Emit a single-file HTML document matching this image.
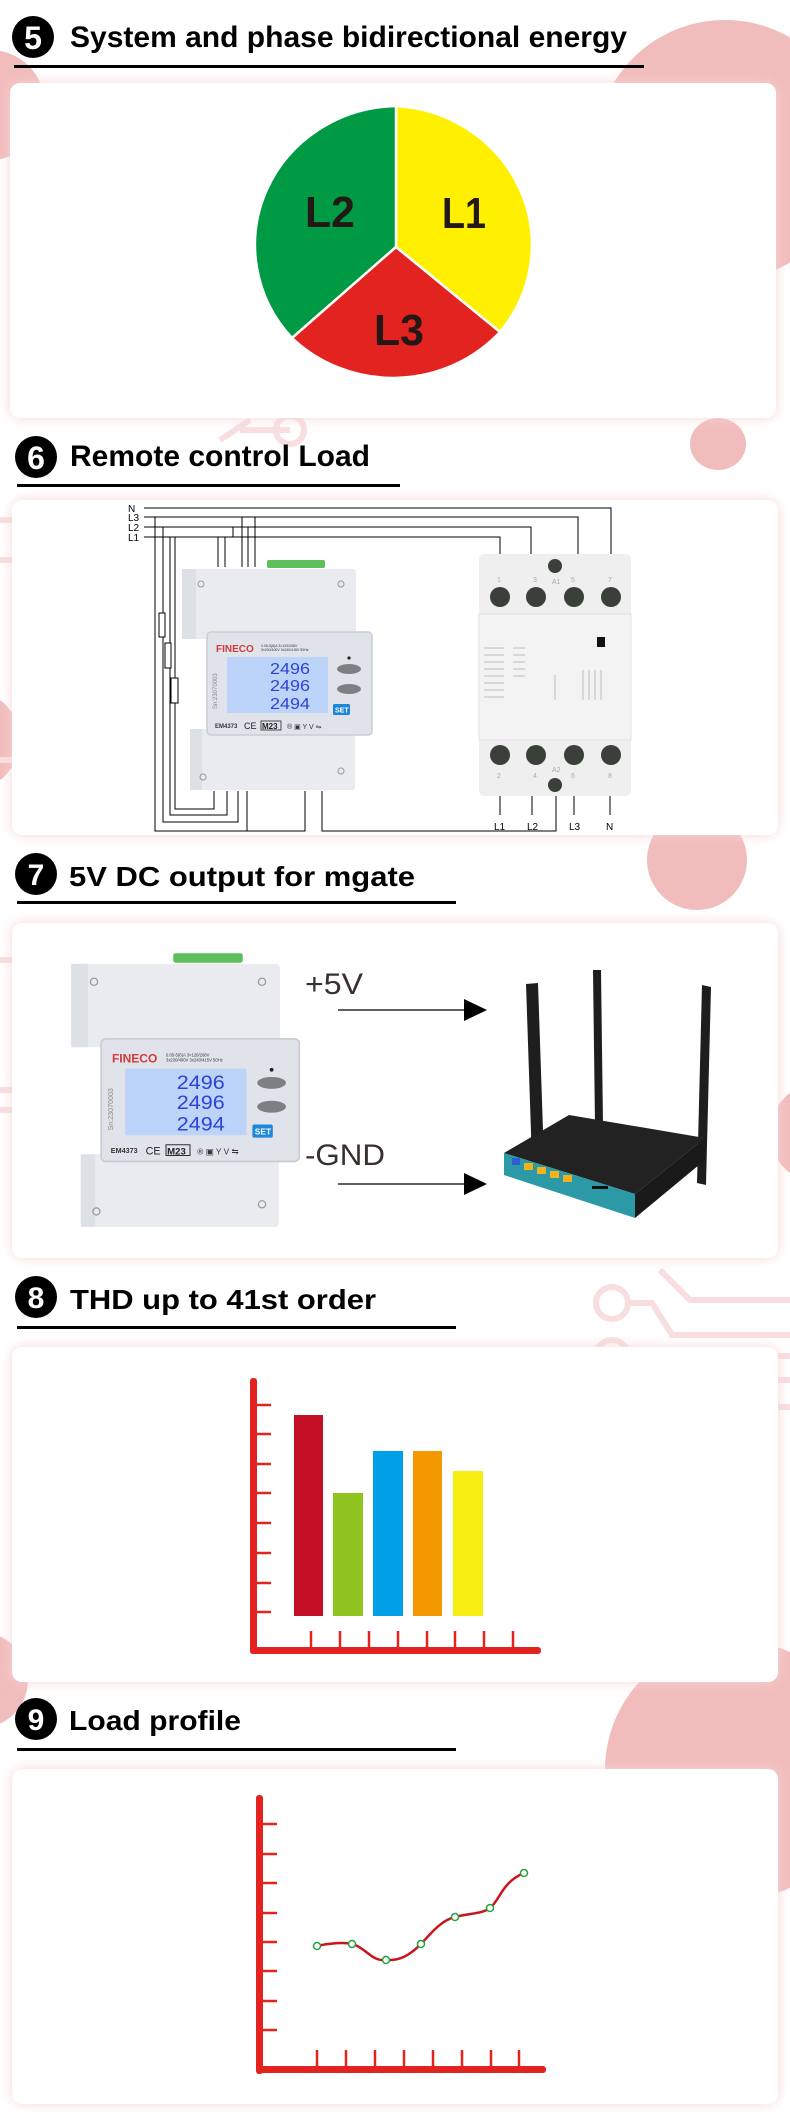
<!DOCTYPE html>
<html><head><meta charset="utf-8"><style>
html,body{margin:0;padding:0;background:#fff;}
svg{display:block;}
text{font-family:"Liberation Sans",sans-serif;}
</style></head><body>
<svg width="790" height="2118" viewBox="0 0 790 2118" xmlns="http://www.w3.org/2000/svg">
<defs>
<filter id="glow" x="-5%" y="-5%" width="110%" height="110%"><feGaussianBlur stdDeviation="6"/></filter>
<g id="meter">
  <rect x="86" y="1" width="58" height="8" rx="2" fill="#5cbf5a"/>
  <rect x="1" y="10" width="174" height="70" rx="3" fill="#e9ebef"/>
  <rect x="1" y="10" width="14" height="70" fill="#dde0e5"/>
  <circle cx="20" cy="25" r="3" fill="none" stroke="#999" stroke-width="1"/>
  <circle cx="160" cy="25" r="3" fill="none" stroke="#999" stroke-width="1"/>
  <rect x="9" y="170" width="165" height="61" rx="3" fill="#e9ebef"/>
  <rect x="9" y="170" width="12" height="61" fill="#dde0e5"/>
  <circle cx="22" cy="218" r="3" fill="none" stroke="#999" stroke-width="1"/>
  <circle cx="160" cy="212" r="3" fill="none" stroke="#999" stroke-width="1"/>
  <rect x="26" y="73" width="165" height="103" rx="4" fill="#e0e4ea" stroke="#c9cdd4" stroke-width="1.5"/>
  <text x="35" y="93" font-size="10" font-weight="bold" fill="#d23a3a">FINECO</text>
  <text x="80" y="88" font-size="3.5" fill="#333">0.05-5(6)A 3×120/208V</text>
  <text x="80" y="92" font-size="3.5" fill="#333">3x230/400V 3x240/415V 50Hz</text>
  <rect x="46" y="98" width="101" height="56" fill="#bcd3fa"/>
  <text x="89" y="115" font-size="16" fill="#2d43d6" textLength="40" lengthAdjust="spacingAndGlyphs">2496</text>
  <text x="89" y="132" font-size="16" fill="#2d43d6" textLength="40" lengthAdjust="spacingAndGlyphs">2496</text>
  <text x="89" y="150" font-size="16" fill="#2d43d6" textLength="40" lengthAdjust="spacingAndGlyphs">2494</text>
  <text x="36" y="150" font-size="6" fill="#888" transform="rotate(-90 36 150)">Sn:23070003</text>
  <ellipse cx="168" cy="110" rx="12" ry="5" fill="#7d7f83"/>
  <ellipse cx="168" cy="130" rx="12" ry="5" fill="#7d7f83"/>
  <circle cx="168" cy="99" r="1.6" fill="#222"/>
  <rect x="152" y="145" width="17" height="11" rx="1.5" fill="#1f87d8"/>
  <text x="154" y="153.5" font-size="7" fill="#fff" font-weight="bold">SET</text>
  <text x="34" y="169" font-size="6" font-weight="bold" fill="#333">EM4373</text>
  <text x="63" y="170" font-size="9" fill="#222">CE</text>
  <rect x="80" y="162" width="20" height="9" fill="none" stroke="#222" stroke-width="0.8"/>
  <text x="81" y="170" font-size="8" font-weight="bold" fill="#222">M23</text>
  <text x="106" y="170" font-size="7" fill="#333">® ▣ Y V ⇋</text>
</g>
</defs>

<!-- background decorations -->
<g fill="#f1bcbc">
  <circle cx="725" cy="150" r="130"/>
  <circle cx="-10" cy="105" r="55"/>
  <ellipse cx="718" cy="444" rx="28" ry="26"/>
  <circle cx="697" cy="860" r="50"/>
  <circle cx="-30" cy="740" r="50"/>
  <circle cx="820" cy="1133" r="50"/>
  <circle cx="-20" cy="1680" r="48"/>
  <circle cx="735" cy="1770" r="130"/>
</g>
<g stroke="#f8dede" stroke-width="6" fill="none">
  <circle cx="612" cy="1303" r="16"/><circle cx="612" cy="1356" r="16"/><circle cx="612" cy="1413" r="16"/><circle cx="657" cy="1460" r="16"/>
  <path d="M628 1303 H652 L672 1335 H790"/><path d="M628 1356 H790"/><path d="M628 1413 H652 L672 1380 H790"/><path d="M670 1447 L700 1407 H790"/>
  <path d="M660 1270 L690 1300 H790"/>
  <path d="M0 520 H30 M0 560 H20 M0 760 H25 M0 960 H25 M0 1090 H25 M0 1110 H25"/>
  <path d="M220 440 L250 420 M240 430 H290"/><circle cx="290" cy="430" r="14"/>
</g>

<!-- cards -->
<g fill="#f7d4d4" filter="url(#glow)">
  <rect x="10" y="83" width="766" height="335" rx="12"/>
  <rect x="12" y="500" width="766" height="335" rx="12"/>
  <rect x="12" y="923" width="766" height="335" rx="12"/>
  <rect x="12" y="1347" width="766" height="335" rx="12"/>
  <rect x="12" y="1769" width="766" height="335" rx="12"/>
</g>
<g fill="#fff">
  <rect x="10" y="83" width="766" height="335" rx="10"/>
  <rect x="12" y="500" width="766" height="335" rx="10"/>
  <rect x="12" y="923" width="766" height="335" rx="10"/>
  <rect x="12" y="1347" width="766" height="335" rx="10"/>
  <rect x="12" y="1769" width="766" height="335" rx="10"/>
</g>

<!-- titles -->
<g>
  <circle cx="33" cy="37" r="21" fill="#000"/><text x="33" y="49" font-size="32" font-weight="bold" fill="#fff" text-anchor="middle">5</text>
  <text x="70" y="47" font-size="30" font-weight="bold" fill="#000" textLength="557" lengthAdjust="spacingAndGlyphs">System and phase bidirectional energy</text>
  <rect x="14" y="65" width="630" height="3" fill="#000"/>

  <circle cx="36" cy="457" r="21" fill="#000"/><text x="36" y="469" font-size="32" font-weight="bold" fill="#fff" text-anchor="middle">6</text>
  <text x="70" y="466" font-size="30" font-weight="bold" fill="#000" textLength="300" lengthAdjust="spacingAndGlyphs">Remote control Load</text>
  <rect x="17" y="484" width="383" height="3" fill="#000"/>

  <circle cx="36" cy="874" r="21" fill="#000"/><text x="36" y="885" font-size="30" font-weight="bold" fill="#fff" text-anchor="middle">7</text>
  <text x="69" y="886" font-size="28" font-weight="bold" fill="#000" textLength="346" lengthAdjust="spacingAndGlyphs">5V DC output for mgate</text>
  <rect x="17" y="901" width="439" height="3" fill="#000"/>

  <circle cx="36" cy="1297" r="21" fill="#000"/><text x="36" y="1308" font-size="30" font-weight="bold" fill="#fff" text-anchor="middle">8</text>
  <text x="70" y="1309" font-size="28" font-weight="bold" fill="#000" textLength="306" lengthAdjust="spacingAndGlyphs">THD up to 41st order</text>
  <rect x="17" y="1326" width="439" height="3" fill="#000"/>

  <circle cx="36" cy="1719" r="21" fill="#000"/><text x="36" y="1730" font-size="30" font-weight="bold" fill="#fff" text-anchor="middle">9</text>
  <text x="69" y="1730" font-size="28" font-weight="bold" fill="#000" textLength="172" lengthAdjust="spacingAndGlyphs">Load profile</text>
  <rect x="17" y="1748" width="439" height="3" fill="#000"/>
</g>

<!-- pie -->
<g stroke="#fff" stroke-width="2.5">
  <path d="M396 247 L396 106 A144 139 0 0 1 500 332 Z" fill="#fff000"/>
  <path d="M396 247 L396 106 A144 139 0 0 0 292 338 Z" fill="#009a44"/>
  <path d="M396 247 L292 338 A144 139 0 0 0 500 332 Z" fill="#e2231f"/>
</g>
<g font-size="44" font-weight="bold" fill="#231815" text-anchor="middle">
  <text x="330" y="227" textLength="50" lengthAdjust="spacingAndGlyphs">L2</text>
  <text x="464" y="228" textLength="44" lengthAdjust="spacingAndGlyphs">L1</text>
  <text x="399" y="345" textLength="50" lengthAdjust="spacingAndGlyphs">L3</text>
</g>

<!-- section 6 wiring -->
<g font-size="10" fill="#000">
  <text x="128" y="512">N</text><text x="128" y="521">L3</text><text x="128" y="531">L2</text><text x="128" y="541">L1</text>
  <text x="494" y="830">L1</text><text x="527" y="830">L2</text><text x="569" y="830">L3</text><text x="606" y="830">N</text>
</g>
<g stroke="#000" stroke-width="1" fill="none">
  <path d="M144 508 H611 V555"/>
  <path d="M144 517 H578 V555"/>
  <path d="M144 527 H531 V555"/>
  <path d="M144 537 H500 V555"/>
  <path d="M218 537 V567 M225 537 V567 M233 527 V537 M242 517 V567 M248 527 V567 M255 517 V567"/>
  <path d="M155 517 V831 H305 V791"/>
  <path d="M163 527 V822 H238 V791"/>
  <path d="M170 537 V815 H227 V791"/>
  <path d="M175 537 V809 H214 V791"/>
  <path d="M247 831 V791"/>
  <path d="M322 791 V831 H556 V796"/>
  <path d="M500 796 V815 M532 796 V815 M574 796 V815 M610 796 V815"/>
  <rect x="159" y="613" width="6" height="24" fill="#fff"/>
  <rect x="165" y="643" width="6" height="25" fill="#fff"/>
  <rect x="171" y="678" width="7" height="25" fill="#fff"/>
</g>
<use href="#meter" transform="translate(181 559)"/>
<!-- contactor -->
<g>
  <rect x="479" y="554" width="152" height="242" rx="5" fill="#efefef"/>
  <rect x="479" y="614" width="152" height="126" fill="#f3f3f3" stroke="#e0e0e0"/>
  <g fill="#3a3f3a">
    <circle cx="500" cy="597" r="10"/><circle cx="536" cy="597" r="10"/><circle cx="574" cy="597" r="10"/><circle cx="611" cy="597" r="10"/>
    <circle cx="500" cy="755" r="10"/><circle cx="536" cy="755" r="10"/><circle cx="574" cy="755" r="10"/><circle cx="611" cy="755" r="10"/>
    <circle cx="555" cy="566" r="7"/><circle cx="555" cy="785" r="7"/>
    <rect x="597" y="637" width="8" height="10" fill="#111"/>
  </g>
  <g font-size="7" fill="#aaa"><text x="497" y="582">1</text><text x="533" y="582">3</text><text x="552" y="584">A1</text><text x="571" y="582">5</text><text x="608" y="582">7</text>
  <text x="497" y="778">2</text><text x="533" y="778">4</text><text x="552" y="772">A2</text><text x="571" y="778">6</text><text x="608" y="778">8</text></g>
  <g stroke="#cfcfcf" stroke-width="1.5"><path d="M484 648 H504 M484 655 H504 M484 662 H504 M484 669 H504 M484 676 H504 M484 683 H504 M484 690 H504 M484 697 H504"/>
  <path d="M513 648 H525 M513 655 H525 M513 662 H525 M513 669 H525 M513 676 H525"/><path d="M555 675 V700 M583 670 V700 M589 670 V700 M595 670 V700 M601 670 V700"/></g>
</g>

<!-- section 7 -->
<use href="#meter" transform="translate(70 952) scale(1.2 1.19)"/>
<text x="305" y="994" font-size="30" fill="#3a2f2f" textLength="58" lengthAdjust="spacingAndGlyphs">+5V</text>
<text x="305" y="1165" font-size="30" fill="#3a2f2f" textLength="80" lengthAdjust="spacingAndGlyphs">-GND</text>
<path d="M338 1010 H468" stroke="#000" stroke-width="1.3"/>
<path d="M464 999 L487 1010 L464 1021 Z" fill="#000"/>
<path d="M338 1184 H468" stroke="#000" stroke-width="1.3"/>
<path d="M464 1173 L487 1184 L464 1195 Z" fill="#000"/>
<!-- router -->
<g>
  <path d="M526 984 L538 983 L544 1160 L532 1162 Z" fill="#1e1e1e"/>
  <path d="M593 970 L601 970 L603 1125 L595 1125 Z" fill="#1e1e1e"/>
  <path d="M702 985 L711 987 L706 1185 L697 1183 Z" fill="#1e1e1e"/>
  <path d="M504 1153 L569 1115 L705 1138 L635 1194 Z" fill="#222"/>
  <path d="M504 1153 L635 1194 L635 1218 L504 1175 Z" fill="#2b9aa6"/>
  <path d="M635 1194 L705 1138 L705 1160 L635 1218 Z" fill="#1a1a1a"/>
  <g fill="#f1b21c"><rect x="524" y="1163" width="9" height="7"/><rect x="537" y="1167" width="9" height="7"/><rect x="550" y="1171" width="9" height="7"/><rect x="563" y="1175" width="9" height="7"/></g>
  <rect x="512" y="1158" width="8" height="7" fill="#2a5fd0"/>
  <rect x="592" y="1186" width="16" height="3" fill="#111"/>
</g>

<!-- section 8 bar chart -->
<g fill="#e2231f">
  <rect x="250" y="1378" width="7" height="276" rx="3"/>
  <rect x="250" y="1647" width="291" height="7" rx="3"/>
</g>
<g stroke="#e2231f" stroke-width="2.5">
  <path d="M255 1405 H271 M255 1434 H271 M255 1464 H271 M255 1493 H271 M255 1523 H271 M255 1553 H271 M255 1583 H271 M255 1612 H271"/>
  <path d="M311 1631 V1650 M340 1631 V1650 M369 1631 V1650 M398 1631 V1650 M427 1631 V1650 M455 1631 V1650 M484 1631 V1650 M513 1631 V1650"/>
</g>
<rect x="294" y="1415" width="29" height="201" fill="#c20f26"/>
<rect x="333" y="1493" width="30" height="123" fill="#8fc31f"/>
<rect x="373" y="1451" width="30" height="165" fill="#00a0e6"/>
<rect x="413" y="1451" width="29" height="165" fill="#f39800"/>
<rect x="453" y="1471" width="30" height="145" fill="#f7ee14"/>

<!-- section 9 line chart -->
<g fill="#e2231f">
  <rect x="256" y="1795" width="7" height="279" rx="3"/>
  <rect x="256" y="2066" width="290" height="7" rx="3"/>
</g>
<g stroke="#e2231f" stroke-width="2.5">
  <path d="M261 1824 H277 M261 1854 H277 M261 1883 H277 M261 1913 H277 M261 1942 H277 M261 1971 H277 M261 2001 H277 M261 2030 H277"/>
  <path d="M317 2050 V2068 M346 2050 V2068 M375 2050 V2068 M404 2050 V2068 M433 2050 V2068 M462 2050 V2068 M491 2050 V2068 M519 2050 V2068"/>
</g>
<path d="M317 1946 C330 1943 345 1942 352 1944 C365 1947 372 1962 386 1960 C400 1961 410 1955 421 1944 C432 1932 442 1920 455 1917 C470 1913 482 1914 490 1908 C500 1900 502 1882 524 1873" fill="none" stroke="#c8161d" stroke-width="2.5"/>
<g fill="#fff" stroke="#22a33a" stroke-width="1.5">
  <circle cx="317" cy="1946" r="3.5"/><circle cx="352" cy="1944" r="3.5"/><circle cx="386" cy="1960" r="3.5"/><circle cx="421" cy="1944" r="3.5"/><circle cx="455" cy="1917" r="3.5"/><circle cx="490" cy="1908" r="3.5"/><circle cx="524" cy="1873" r="3.5"/>
</g>
</svg>
</body></html>
